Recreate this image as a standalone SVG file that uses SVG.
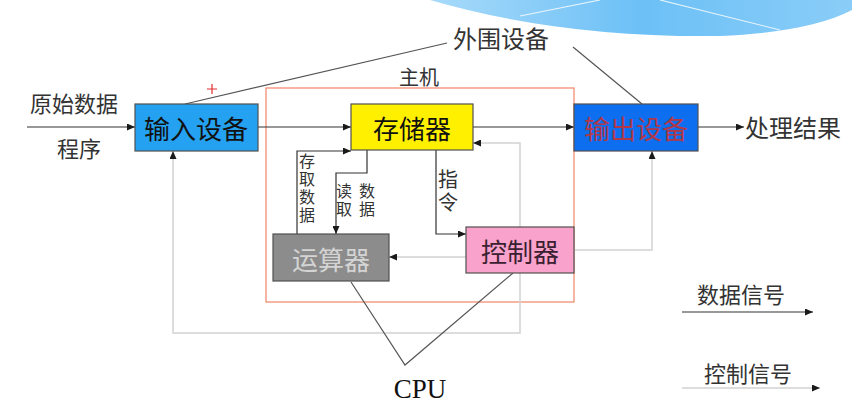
<svg xmlns="http://www.w3.org/2000/svg" width="852" height="420" viewBox="0 0 852 420">
<defs>
<linearGradient id="sw" x1="0" y1="0" x2="1" y2="0">
<stop offset="0" stop-color="#A8DAFA"/>
<stop offset="0.5" stop-color="#6CC0F6"/>
<stop offset="1" stop-color="#8ACDF8"/>
</linearGradient>
<marker id="ah" markerWidth="8" markerHeight="7" refX="8" refY="3.5" orient="auto" markerUnits="userSpaceOnUse">
<path d="M0,0 L8,3.5 L0,7 z" fill="#1a1a1a"/>
</marker>
<style>
.cj{font-family:"Noto Sans CJK SC","Noto Sans",sans-serif;fill:#333;}
.box{stroke:#505050;stroke-width:1.2;}
.data{fill:none;stroke:#333;stroke-width:1.2;marker-end:url(#ah);}
.ctla{fill:none;stroke:#d2d2d2;stroke-width:1.5;marker-end:url(#ah);}
.thin{fill:none;stroke:#555;stroke-width:1.2;}
.bt{font-size:26px;text-anchor:middle;dominant-baseline:central;}
.vt{writing-mode:vertical-rl;text-anchor:middle;}
</style>
</defs>
<rect width="852" height="420" fill="#fff"/>
<path d="M430,0 Q560,38 720,36 Q810,32 852,10 L852,0 Z" fill="url(#sw)"/>
<path d="M520,16 L600,0" stroke="#e6f4fd" stroke-width="1.2" fill="none"/>
<path d="M660,0 L780,30" stroke="#e6f4fd" stroke-width="1.2" fill="none"/>

<g id="host">
<rect x="266" y="88" width="308" height="214" fill="none" stroke="#F28468" stroke-width="1.2"/>
<text class="cj" x="419" y="76" font-size="20" text-anchor="middle" dominant-baseline="central">主机</text>
</g>

<g id="connectors">
<line class="data" x1="27" y1="127" x2="135" y2="127"/>
<line class="data" x1="258" y1="127" x2="351" y2="127"/>
<line class="data" x1="473" y1="127" x2="574" y2="127"/>
<line class="data" x1="698" y1="127" x2="744" y2="127"/>
<polyline class="data" points="297,234 297,151 351,151"/>
<polyline class="data" points="367,150 367,173 336,173 336,234"/>
<polyline class="data" points="436,150 436,234 466,234"/>
<line class="ctla" x1="466" y1="257" x2="389" y2="257"/>
<polyline class="ctla" points="520,227 520,143 473,143"/>
<polyline class="ctla" points="574,250 652,250 652,151"/>
<polyline class="ctla" points="520,273 520,333 173,333 173,151"/>
<line class="thin" x1="447" y1="43" x2="185" y2="104"/>
<line class="thin" x1="573" y1="47" x2="642" y2="104"/>
<polyline class="thin" points="351,282 405,365 513,273"/>
<path d="M212,84 L212,94 M207,89 L217,89" stroke="#e03030" stroke-width="1.2"/>
</g>

<g id="input">
<rect class="box" x="135" y="104" width="123" height="47" fill="#24A1F0"/>
<text class="cj bt" x="196" y="127" style="fill:#111">输入设备</text>
</g>
<g id="memory">
<rect class="box" x="351" y="104" width="122" height="46" fill="#FFF000"/>
<text class="cj bt" x="412" y="127" style="fill:#111">存储器</text>
</g>
<g id="output">
<rect class="box" x="574" y="104" width="124" height="47" fill="#0D6EF0"/>
<text class="cj bt" x="636" y="127" style="fill:#B03848">输出设备</text>
</g>
<g id="alu">
<rect class="box" x="273" y="234" width="116" height="47" fill="#8C8C8C"/>
<text class="cj bt" x="331" y="258" style="fill:#D4D4D4">运算器</text>
</g>
<g id="controller">
<rect class="box" x="466" y="227" width="108" height="46" fill="#F9A2CB"/>
<text class="cj bt" x="520" y="250" style="fill:#3a2030">控制器</text>
</g>

<g id="labels">
<text class="cj" x="74" y="102" font-size="22" text-anchor="middle" dominant-baseline="central">原始数据</text>
<text class="cj" x="79" y="147" font-size="22" text-anchor="middle" dominant-baseline="central">程序</text>
<text class="cj" x="793" y="126" font-size="24" text-anchor="middle" dominant-baseline="central">处理结果</text>
<text class="cj" x="501" y="37" font-size="24" text-anchor="middle" dominant-baseline="central">外围设备</text>
<text class="cj vt" x="307" y="189" font-size="16" letter-spacing="2">存取数据</text>
<text class="cj vt" x="344" y="201" font-size="16" letter-spacing="2">读取</text>
<text class="cj vt" x="367" y="201" font-size="16" letter-spacing="2">数据</text>
<text class="cj vt" x="448" y="192" font-size="20" letter-spacing="3">指令</text>
<text x="420" y="398" font-family="Liberation Serif, serif" font-size="27" fill="#111" text-anchor="middle">CPU</text>
</g>

<g id="legend">
<text class="cj" x="741" y="293" font-size="22" text-anchor="middle" dominant-baseline="central">数据信号</text>
<line class="data" x1="682" y1="312" x2="813" y2="312"/>
<text class="cj" x="748" y="372" font-size="22" text-anchor="middle" dominant-baseline="central">控制信号</text>
<line class="ctla" x1="682" y1="388" x2="820" y2="388"/>
</g>
</svg>
